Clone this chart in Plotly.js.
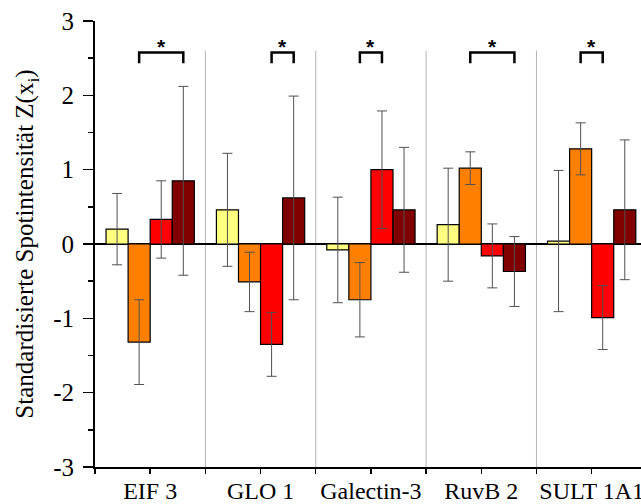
<!DOCTYPE html>
<html>
<head>
<meta charset="utf-8">
<script src="https://cdn.plot.ly/plotly-3.0.1.min.js"></script>
<style>html,body{margin:0;padding:0;background:#fff;}#chart{width:641px;height:504px;}</style>
</head>
<body>
<div id="chart"></div>
<script>
// ---- data ----
var categories = ['EIF 3', 'GLO 1', 'Galectin-3', 'RuvB 2', 'SULT 1A1'];
var series1 = [0.20, 0.46, -0.08, 0.26, 0.04];
var error1  = [0.48, 0.76, 0.71, 0.76, 0.95];
var series2 = [-1.32, -0.51, -0.75, 1.02, 1.28];
var error2  = [0.57, 0.40, 0.50, 0.22, 0.35];
var series3 = [0.33, -1.35, 1.00, -0.16, -0.99];
var error3  = [0.52, 0.43, 0.79, 0.43, 0.43];
var series4 = [0.85, 0.62, 0.46, -0.37, 0.46];
var error4  = [1.27, 1.37, 0.84, 0.47, 0.94];
// significance brackets: [group index, first bar index, second bar index]
var sigGroups = [0, 1, 2, 3, 4];
var sigFrom   = [1, 2, 1, 1, 1];
var sigTo     = [3, 3, 2, 3, 2];
var yTickVals = [-3, -2, -1, 0, 1, 2, 3];
var yTickText = ['-3', '-2', '-1', '0', '1', '2', '3'];

var colors = ['#FFFF80', '#FF8000', '#FF0000', '#800000'];
var seriesList = [series1, series2, series3, series4];
var errorList = [error1, error2, error3, error4];
var SERIF = 'Liberation Serif';

var xIdx = categories.map(function (c, i) { return i; });
var traces = seriesList.map(function (s, k) {
  return {
    type: 'bar',
    x: xIdx,
    y: s,
    marker: {color: colors[k], line: {color: '#000', width: 1.2}},
    error_y: {type: 'data', array: errorList[k], visible: true, color: '#505050', thickness: 1, width: 5},
    showlegend: false,
    hoverinfo: 'skip'
  };
});

var barW = 0.2;
var shapes = [];
var annotations = [];
for (var j = 0; j < categories.length - 1; j++) {
  shapes.push({type: 'line', xref: 'x', yref: 'y', x0: j + 0.5, x1: j + 0.5, y0: -3, y1: 2.6,
    line: {color: '#b4b4b4', width: 1}, layer: 'below'});
}
var topY = 2.575, legY = 2.43;
for (var m = 0; m < sigGroups.length; m++) {
  var x1 = sigGroups[m] + (sigFrom[m] - 1.5) * barW;
  var x2 = sigGroups[m] + (sigTo[m] - 1.5) * barW;
  shapes.push({type: 'path', xref: 'x', yref: 'y',
    path: 'M' + x1 + ',' + legY + ' L' + x1 + ',' + topY + ' L' + x2 + ',' + topY + ' L' + x2 + ',' + legY,
    line: {color: '#000', width: 2.5}});
  annotations.push({x: (x1 + x2) / 2, y: 2.48, xref: 'x', yref: 'y', text: '<b>*</b>', showarrow: false,
    yanchor: 'bottom', font: {family: 'Liberation Sans', size: 21, color: '#000'}});
}

var layout = {
  width: 641, height: 504,
  margin: {l: 95, r: 0, t: 21, b: 37, pad: 0},
  paper_bgcolor: '#fff', plot_bgcolor: '#fff',
  font: {family: SERIF, size: 24, color: '#000'},
  barmode: 'group', bargap: 0.2, bargroupgap: 0,
  xaxis: {
    range: [-0.5, 4.447], tickmode: 'array', tickvals: xIdx, ticktext: categories,
    ticks: 'outside', ticklen: 5, tickwidth: 1.5, tickcolor: '#000',
    minor: {dtick: 0.5, tick0: 0.5, ticks: 'outside', ticklen: 5, tickwidth: 1.5, tickcolor: '#000', showgrid: false},
    showline: true, linecolor: '#000', linewidth: 2, showgrid: false, zeroline: false,
    ticklabeloverflow: 'allow', ticklabelstandoff: -4,
    tickfont: {family: SERIF, size: 24}
  },
  yaxis: {
    range: [-3, 3], tickmode: 'array', tickvals: yTickVals, ticktext: yTickText,
    ticks: 'outside', ticklen: 10, tickwidth: 1.5, tickcolor: '#000',
    minor: {dtick: 0.5, tick0: 0, ticks: 'outside', ticklen: 5, tickwidth: 1.5, tickcolor: '#000', showgrid: false},
    showline: true, linecolor: '#000', linewidth: 2, showgrid: false,
    zeroline: true, zerolinecolor: '#000', zerolinewidth: 1.5,
    ticklabelstandoff: 4,
    tickfont: {family: SERIF, size: 25},
    title: {text: 'Standardisierte Spotintensität Z(x<sub>i</sub>)', font: {family: SERIF, size: 25}, standoff: 12}
  },
  shapes: shapes,
  annotations: annotations
};

Plotly.newPlot('chart', traces, layout, {staticPlot: true, displayModeBar: false});
</script>
</body>
</html>
